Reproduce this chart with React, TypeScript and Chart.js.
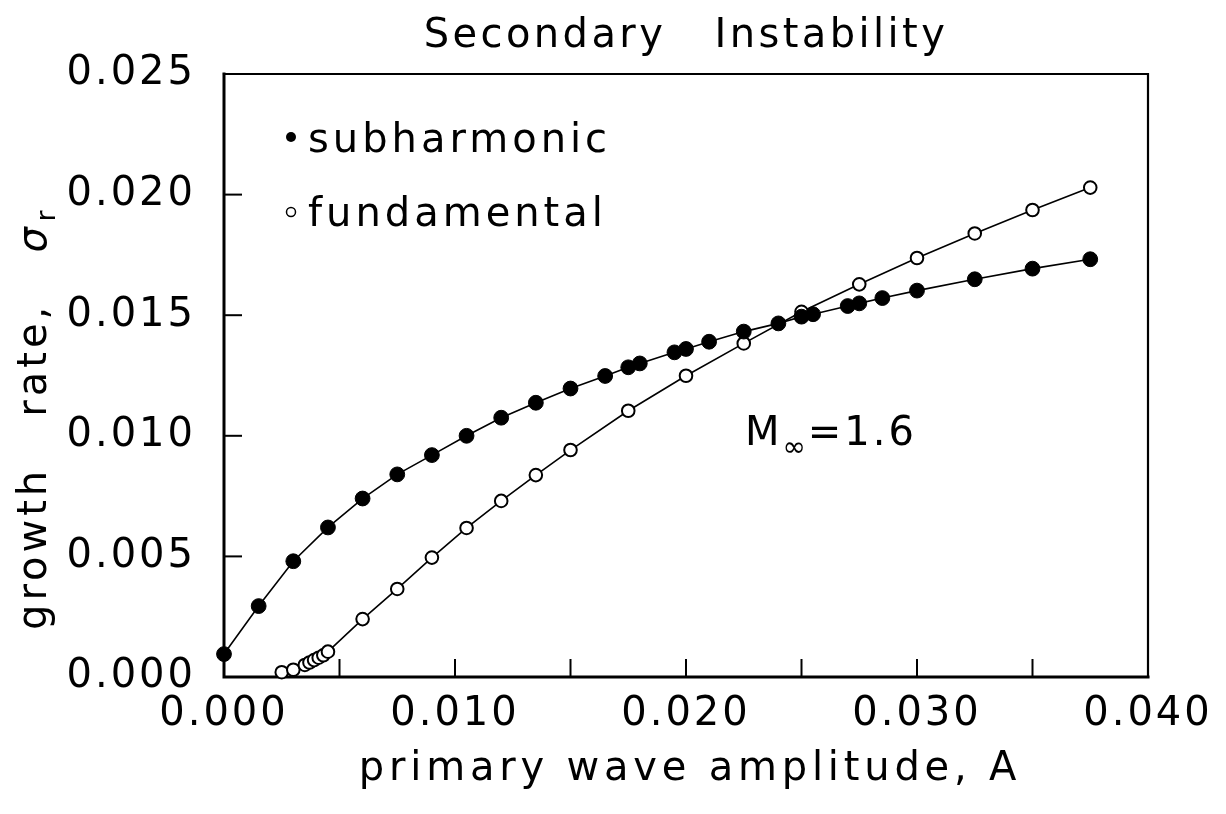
import React, { useEffect, useRef } from 'react';
import { Chart, registerables } from 'chart.js';

Chart.register(...registerables);

// ---- data ----
const subharmonicX = [0, 0.0015, 0.003, 0.0045, 0.006, 0.0075, 0.009, 0.0105, 0.012, 0.0135, 0.015, 0.0165, 0.0175, 0.018, 0.0195, 0.02, 0.021, 0.0225, 0.024, 0.025, 0.0255, 0.027, 0.0275, 0.0285, 0.03, 0.0325, 0.035, 0.0375];
const subharmonicY = [0.00095, 0.00294, 0.0048, 0.0062, 0.0074, 0.0084, 0.0092, 0.0100, 0.01075, 0.01137, 0.01196, 0.01248, 0.01284, 0.0130, 0.01346, 0.0136, 0.0139, 0.01432, 0.01466, 0.01494, 0.01504, 0.01538, 0.01549, 0.01571, 0.01602, 0.01649, 0.01693, 0.01732];

const fundamentalX = [0.0025, 0.003, 0.0035, 0.0037, 0.0039, 0.0041, 0.0043, 0.0045, 0.006, 0.0075, 0.009, 0.0105, 0.012, 0.0135, 0.015, 0.0175, 0.02, 0.0225, 0.025, 0.0275, 0.03, 0.0325, 0.035, 0.0375];
const fundamentalY = [0.0002, 0.0003, 0.0005, 0.0006, 0.0007, 0.0008, 0.0009, 0.00105, 0.0024, 0.00365, 0.00495, 0.00618, 0.0073, 0.00837, 0.00941, 0.01104, 0.01249, 0.01383, 0.01514, 0.01628, 0.01737, 0.01839, 0.01936, 0.02029];

const xTickLabels = ['0.000', '', '0.010', '', '0.020', '', '0.030', '', '0.040'];
const yTickLabels = ['0.000', '0.005', '0.010', '0.015', '0.020', '0.025'];

const seriesNames = ['subharmonic', 'fundamental'];
const titleText = 'Secondary   Instability';
const xTitle = 'primary wave amplitude, A';
const yTitleMain = 'growth   rate,   ';
const yTitleSymbol = '\u03C3';
const yTitleSub = 'r';
const machLabel = ['M', '\u221E', '=1.6'];

const FONT = "'DejaVu Sans', sans-serif";
const SPACING = '3px';

const toPoints = (xs: number[], ys: number[]) => xs.map((x, i) => ({ x, y: ys[i] }));

const decorPlugin = {
  id: 'decor',
  beforeLayout(chart: any) {
    chart.ctx.letterSpacing = SPACING;
  },
  beforeDraw(chart: any) {
    chart.ctx.letterSpacing = SPACING;
  },
  beforeDatasetsDraw(chart: any) {
    const { ctx, chartArea, scales } = chart;
    const { left, right, top, bottom } = chartArea;
    ctx.save();
    ctx.strokeStyle = '#000';
    ctx.lineCap = 'square';
    // top and right edges (thinner)
    ctx.lineWidth = 2.2;
    ctx.beginPath();
    ctx.moveTo(left, top);
    ctx.lineTo(right, top);
    ctx.lineTo(right, bottom);
    ctx.stroke();
    // left and bottom axes (thicker)
    ctx.lineWidth = 3;
    ctx.beginPath();
    ctx.moveTo(left, top);
    ctx.lineTo(left, bottom);
    ctx.lineTo(right, bottom);
    ctx.stroke();
    ctx.lineCap = 'butt';
    ctx.lineWidth = 2;
    scales.x.ticks.forEach((t: any) => {
      const px = scales.x.getPixelForValue(t.value);
      if (px > left + 2 && px < right - 2) {
        ctx.beginPath();
        ctx.moveTo(px, bottom);
        ctx.lineTo(px, bottom - 18);
        ctx.stroke();
      }
    });
    scales.y.ticks.forEach((t: any) => {
      const py = scales.y.getPixelForValue(t.value);
      if (py > top + 2 && py < bottom - 2) {
        ctx.beginPath();
        ctx.moveTo(left, py);
        ctx.lineTo(left + 18, py);
        ctx.stroke();
      }
    });
    ctx.restore();
  },
  afterDraw(chart: any) {
    const { ctx, chartArea, scales } = chart;
    const cx = (chartArea.left + chartArea.right) / 2;
    ctx.save();
    ctx.fillStyle = '#000';
    ctx.strokeStyle = '#000';

    // title
    ctx.font = `40px ${FONT}`;
    ctx.letterSpacing = '3.4px';
    ctx.textAlign = 'center';
    ctx.textBaseline = 'middle';
    ctx.fillText(titleText, cx, 37);

    // x axis title
    ctx.letterSpacing = '4.8px';
    ctx.fillText(xTitle, cx + 4, 770);

    // y axis title (rotated)
    ctx.save();
    ctx.translate(36, 630);
    ctx.rotate(-Math.PI / 2);
    ctx.textAlign = 'left';
    ctx.letterSpacing = '4px';
    ctx.font = `40px ${FONT}`;
    ctx.fillText(yTitleMain, 0, 0);
    const w1 = ctx.measureText(yTitleMain).width;
    ctx.font = `italic 40px ${FONT}`;
    ctx.fillText(yTitleSymbol, w1, 0);
    const w2 = ctx.measureText(yTitleSymbol).width;
    ctx.font = `26px ${FONT}`;
    ctx.fillText(yTitleSub, w1 + w2 + 2, 12);
    ctx.restore();

    // legend
    ctx.letterSpacing = '4px';
    const lx = chartArea.left + 67;
    const ly1 = chartArea.top + 63;
    const ly2 = chartArea.top + 138;
    ctx.beginPath();
    ctx.arc(lx, ly1, 5, 0, Math.PI * 2);
    ctx.fill();
    ctx.beginPath();
    ctx.lineWidth = 1.5;
    ctx.arc(lx, ly2, 4.5, 0, Math.PI * 2);
    ctx.stroke();
    ctx.font = `40px ${FONT}`;
    ctx.textBaseline = 'alphabetic';
    ctx.textAlign = 'left';
    ctx.fillText(seriesNames[0], lx + 17, ly1 + 15);
    ctx.fillText(seriesNames[1], lx + 17, ly2 + 14);

    // M_inf annotation
    const ax = scales.x.getPixelForValue(0.02255);
    const ay = scales.y.getPixelForValue(0.01003);
    ctx.letterSpacing = '3px';
    ctx.textBaseline = 'middle';
    ctx.font = `40px ${FONT}`;
    ctx.fillText(machLabel[0], ax, ay);
    const mw = ctx.measureText(machLabel[0]).width;
    ctx.font = `28px ${FONT}`;
    ctx.letterSpacing = '0px';
    ctx.fillText(machLabel[1], ax + mw, ay + 14);
    const iw = ctx.measureText(machLabel[1]).width;
    ctx.letterSpacing = '3px';
    ctx.font = `40px ${FONT}`;
    ctx.fillText(machLabel[2], ax + mw + iw + 2, ay);
    ctx.restore();
  },
};

export default function App() {
  const ref = useRef<HTMLCanvasElement | null>(null);
  useEffect(() => {
    if (!ref.current) return;
    const chart = new Chart(ref.current, {
      type: 'line',
      data: {
        datasets: [
          {
            label: seriesNames[0],
            data: toPoints(subharmonicX, subharmonicY),
            borderColor: '#000',
            backgroundColor: '#000',
            borderWidth: 1.6,
            pointRadius: 7.4,
            pointBackgroundColor: '#000',
            pointBorderColor: '#000',
            pointBorderWidth: 1,
            tension: 0,
            clip: false as any,
          },
          {
            label: seriesNames[1],
            data: toPoints(fundamentalX, fundamentalY),
            borderColor: '#000',
            backgroundColor: '#fff',
            borderWidth: 1.6,
            pointRadius: 6.3,
            pointBackgroundColor: '#fff',
            pointBorderColor: '#000',
            pointBorderWidth: 2,
            tension: 0,
            clip: false as any,
          },
        ],
      },
      options: {
        responsive: false,
        animation: false,
        devicePixelRatio: 1,
        layout: { padding: { left: 0, right: 78, top: 74, bottom: 0 } },
        plugins: {
          legend: { display: false },
          tooltip: { enabled: false },
          title: { display: false },
        },
        scales: {
          x: {
            type: 'linear',
            min: 0,
            max: 0.04,
            grid: { display: false, drawTicks: false },
            border: { display: false },
            ticks: {
              stepSize: 0.005,
              autoSkip: false,
              maxRotation: 0,
              color: '#000',
              padding: 14,
              font: { family: FONT, size: 40 },
              callback: (_v: any, i: number) => xTickLabels[i] ?? '',
            },
            title: { display: false },
            afterFit: (s: any) => {
              s.height = 137;
              s.paddingLeft = 0;
              s.paddingRight = 0;
            },
          },
          y: {
            type: 'linear',
            min: 0,
            max: 0.025,
            grid: { display: false, drawTicks: false },
            border: { display: false },
            ticks: {
              stepSize: 0.005,
              color: '#000',
              padding: 28,
              font: { family: FONT, size: 40 },
              callback: (_v: any, i: number) => yTickLabels[i] ?? '',
            },
            title: { display: false },
            afterFit: (s: any) => {
              s.width = 224;
              s.paddingTop = 0;
              s.paddingBottom = 0;
            },
          },
        },
      },
      plugins: [decorPlugin],
    } as any);
    return () => chart.destroy();
  }, []);
  return (
    <div style={{ position: 'fixed', left: 0, top: 0, width: 1226, height: 814, background: '#fff' }}>
      <canvas ref={ref} width={1226} height={814} style={{ width: 1226, height: 814, display: 'block' }} />
    </div>
  );
}
